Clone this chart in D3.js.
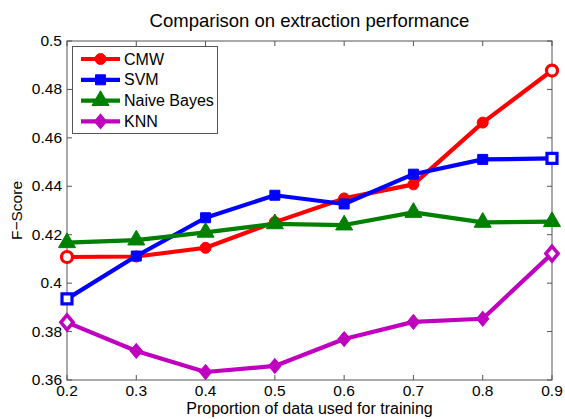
<!DOCTYPE html>
<html lang="en">
<head>
<meta charset="UTF-8">
<title>Comparison on extraction performance</title>
<script src="https://d3js.org/d3.v7.min.js"></script>
<style>
    body { margin: 0; background: #fff; }
    svg { display: block; font-family: "Liberation Sans", Arial, sans-serif; }
    .axis-line { stroke: #555; stroke-width: 1; fill: none; }
    .tick-label { font-size: 15.5px; fill: #000; }
    .series-line { fill: none; stroke-width: 4.2; stroke-linejoin: round; }
</style>
</head>
<body>
<svg id="chart" width="565" height="419"></svg>
<script>
    // data
    const proportions = [0.2, 0.3, 0.4, 0.5, 0.6, 0.7, 0.8, 0.9];
    const cmw        = [0.4108, 0.4110, 0.4146, 0.4252, 0.4350, 0.4408, 0.4663, 0.4878];
    const svmScores  = [0.3935, 0.4112, 0.4270, 0.4363, 0.4327, 0.4450, 0.4511, 0.4515];
    const naiveBayes = [0.4167, 0.4178, 0.4210, 0.4245, 0.4240, 0.4292, 0.4251, 0.4254];
    const knn        = [0.3838, 0.3720, 0.3633, 0.3658, 0.3769, 0.3840, 0.3853, 0.4122];
    const seriesNames = ["CMW", "SVM", "Naive Bayes", "KNN"];
    const xTicks = [0.2, 0.3, 0.4, 0.5, 0.6, 0.7, 0.8, 0.9];
    const yTicks = [0.36, 0.38, 0.4, 0.42, 0.44, 0.46, 0.48, 0.5];

    const series = [
        { name: seriesNames[0], values: cmw,        color: "#ff0000", marker: "circle" },
        { name: seriesNames[1], values: svmScores,  color: "#0000ff", marker: "square" },
        { name: seriesNames[2], values: naiveBayes, color: "#008000", marker: "triangle" },
        { name: seriesNames[3], values: knn,        color: "#bf00bf", marker: "diamond" }
    ];

    const svg = d3.select("#chart");
    const plotL = 67, plotR = 552, plotT = 41, plotB = 380;

    const x = d3.scaleLinear().domain([0.2, 0.9]).range([plotL, plotR]);
    const y = d3.scaleLinear().domain([0.36, 0.5]).range([plotB, plotT]);

    // marker shapes
    const shapes = {
        circle:   d3.symbol().type(d3.symbolCircle).size(95),
        square:   d3.symbol().type(d3.symbolSquare).size(100),
        triangle: d3.symbol().type(d3.symbolTriangle).size(125),
        diamond:  d3.symbol().type(d3.symbolDiamond2).size(95)
    };
    // diamonds in the reference are a little taller than wide
    const stretch = m => m === "diamond" ? " scale(1,1.2)" : "";

    // title
    svg.append("text")
        .attr("x", (plotL + plotR) / 2)
        .attr("y", 27)
        .attr("text-anchor", "middle")
        .style("font-size", "18.5px")
        .text("Comparison on extraction performance");

    // box
    svg.append("rect")
        .attr("class", "axis-line")
        .attr("x", plotL).attr("y", plotT)
        .attr("width", plotR - plotL).attr("height", plotB - plotT);

    // ticks (inside, on all four sides)
    const tl = 5;
    xTicks.forEach(t => {
        svg.append("line").attr("class", "axis-line")
            .attr("x1", x(t)).attr("x2", x(t)).attr("y1", plotB).attr("y2", plotB - tl);
        svg.append("line").attr("class", "axis-line")
            .attr("x1", x(t)).attr("x2", x(t)).attr("y1", plotT).attr("y2", plotT + tl);
        svg.append("text").attr("class", "tick-label")
            .attr("x", x(t)).attr("y", plotB + 16)
            .attr("text-anchor", "middle")
            .text(d3.format("")(t));
    });
    yTicks.forEach(t => {
        svg.append("line").attr("class", "axis-line")
            .attr("x1", plotL).attr("x2", plotL + tl).attr("y1", y(t)).attr("y2", y(t));
        svg.append("line").attr("class", "axis-line")
            .attr("x1", plotR).attr("x2", plotR - tl).attr("y1", y(t)).attr("y2", y(t));
        svg.append("text").attr("class", "tick-label")
            .attr("x", plotL - 5).attr("y", y(t) + 5)
            .attr("text-anchor", "end")
            .text(d3.format("")(t));
    });

    // axis labels
    svg.append("text")
        .attr("x", (plotL + plotR) / 2)
        .attr("y", 414)
        .attr("text-anchor", "middle")
        .style("font-size", "16px")
        .text("Proportion of data used for training");

    svg.append("text")
        .attr("transform", `translate(22,${(plotT + plotB) / 2}) rotate(-90)`)
        .attr("text-anchor", "middle")
        .style("font-size", "15.5px")
        .text("F\u2212Score");

    // lines and markers
    const line = d3.line().x((d, i) => x(proportions[i])).y(d => y(d));
    series.forEach(s => {
        svg.append("path")
            .attr("class", "series-line")
            .attr("stroke", s.color)
            .attr("d", line(s.values));

        const last = s.values.length - 1;
        const hollow = i => s.marker !== "triangle" && (i === 0 || i === last);
        svg.selectAll(null)
            .data(s.values)
            .enter()
            .append("path")
            .attr("transform", (d, i) => `translate(${x(proportions[i])},${y(d)})` + stretch(s.marker))
            .attr("d", shapes[s.marker])
            .attr("fill", (d, i) => hollow(i) ? "#fff" : s.color)
            .attr("stroke", s.color)
            .attr("stroke-width", (d, i) => hollow(i) ? 3.2 : 1);
    });

    // legend
    const legend = svg.append("g");
    legend.append("rect")
        .attr("x", 72.5).attr("y", 46.5)
        .attr("width", 145).attr("height", 87)
        .attr("fill", "#fff")
        .attr("stroke", "#555");
    series.forEach((s, i) => {
        const ly = 59 + i * 20.8;
        legend.append("line")
            .attr("x1", 81).attr("x2", 120).attr("y1", ly).attr("y2", ly)
            .attr("stroke", s.color).attr("stroke-width", 4.2);
        legend.append("path")
            .attr("transform", `translate(100.5,${ly})` + stretch(s.marker))
            .attr("d", shapes[s.marker])
            .attr("fill", s.color).attr("stroke", s.color);
        legend.append("text")
            .attr("x", 124).attr("y", ly + 5.5)
            .style("font-size", "16px")
            .text(s.name);
    });
</script>
</body>
</html>
